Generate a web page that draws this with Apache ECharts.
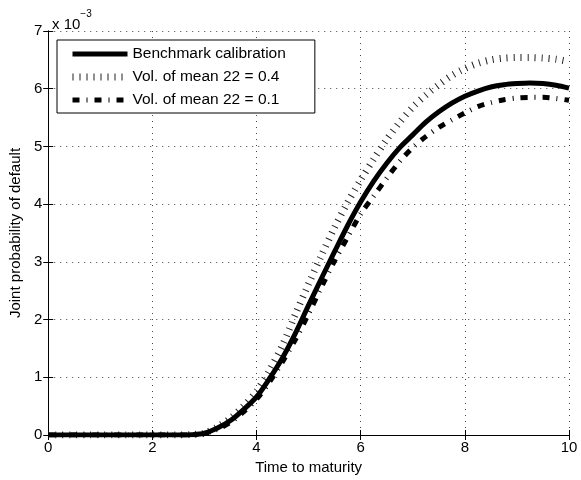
<!DOCTYPE html>
<html>
<head>
<meta charset="utf-8">
<script src="https://cdn.jsdelivr.net/npm/echarts@6/dist/echarts.min.js"></script>
<style>
html,body{margin:0;padding:0;background:#fff;}
#main{width:581px;height:480px;}
</style>
</head>
<body>
<div id="main"></div>
<script>
// Time to maturity
const times = [0,0.25,0.5,0.75,1,1.25,1.5,1.75,2,2.25,2.5,2.75,3,3.25,3.5,3.75,4,4.25,4.5,4.75,5,5.25,5.5,5.75,6,6.25,6.5,6.75,7,7.25,7.5,7.75,8,8.25,8.5,8.75,9,9.25,9.5,9.75,10];
// Joint probability of default (x 10^-3)
const benchmark = [0,0,0,0,0,0,0,0,0,0,0.001,0.005,0.03,0.12,0.25,0.44,0.66,0.98,1.34,1.77,2.25,2.72,3.18,3.63,4.04,4.40,4.71,4.98,5.20,5.42,5.60,5.75,5.87,5.96,6.03,6.07,6.09,6.10,6.09,6.06,6.01];
const volMean04 = [0,0,0,0,0,0,0,0,0,0,0.001,0.006,0.035,0.14,0.29,0.5,0.76,1.12,1.56,2.1,2.62,3.12,3.6,4.03,4.42,4.78,5.12,5.42,5.68,5.89,6.07,6.23,6.35,6.44,6.50,6.53,6.54,6.54,6.53,6.51,6.47];
const volMean01 = [0,0,0,0,0,0,0,0,0,0,0.001,0.004,0.025,0.1,0.22,0.4,0.62,0.92,1.27,1.66,2.1,2.57,3.02,3.43,3.83,4.14,4.45,4.74,4.98,5.17,5.33,5.46,5.58,5.69,5.76,5.81,5.84,5.85,5.85,5.83,5.80];
const seriesNames = ['Benchmark calibration','Vol. of mean 22 = 0.4','Vol. of mean 22 = 0.1'];
const xTicks = [0,2,4,6,8,10];
const yTicks = [0,1,2,3,4,5,6,7];

const pairs = arr => times.map((t,i)=>[t,arr[i]]);
const font = 'Liberation Sans, Arial, sans-serif';
const gridLine = {show:true,lineStyle:{color:'#444',type:[1,5],width:1}};

const styles = [
  {color:'#000',width:5,type:'solid',cap:'butt'},
  {color:'#222',width:7,type:[1,6],cap:'butt'},
  {color:'#000',width:5,type:[7,7,1,7],cap:'butt'}
];

const chart = echarts.init(document.getElementById('main'),null,{renderer:'canvas'});
chart.setOption({
  animation:false,
  backgroundColor:'#fff',
  title:{
    text:'{a|x 10}{b|−3}',
    left:47, top:4,
    textStyle:{fontWeight:'normal',rich:{
      a:{fontFamily:font,fontSize:15,fontWeight:'normal',color:'#000',verticalAlign:'bottom',padding:[8,0,0,0]},
      b:{fontFamily:font,fontSize:10,fontWeight:'normal',color:'#000',verticalAlign:'top',padding:[0,0,10,0]}
    }}
  },
  grid:{left:48,right:12,top:31,bottom:45,containLabel:false},
  legend:{
    orient:'vertical',
    left:57, top:40,
    padding:[6,29,5,12],
    itemGap:7,
    itemWidth:55, itemHeight:14,
    backgroundColor:'#fff',
    borderColor:'#000', borderWidth:1, borderRadius:0,
    textStyle:{fontFamily:font,fontSize:15.5,lineHeight:16,color:'#000'},
    data:seriesNames.map((n,i)=>({name:n,itemStyle:{opacity:0},lineStyle:Object.assign({},styles[i])}))
  },
  xAxis:[{
    type:'value',min:0,max:10,interval:2,
    axisLine:{show:true,lineStyle:{color:'#000',width:1}},
    axisTick:{show:true,inside:true,length:5,lineStyle:{color:'#000'}},
    axisLabel:{fontFamily:font,fontSize:15,color:'#000',margin:5,formatter:v=>xTicks.includes(v)?String(v):''},
    splitLine:gridLine,
    name:'Time to maturity',nameLocation:'middle',nameGap:23,
    nameTextStyle:{fontFamily:font,fontSize:15,color:'#000'}
  },{
    type:'value',min:0,max:10,interval:2,position:'top',
    axisLine:{show:true,lineStyle:{color:'#000',width:1}},
    axisTick:{show:true,inside:true,length:5,lineStyle:{color:'#000'}},
    axisLabel:{show:false},splitLine:{show:false}
  }],
  yAxis:[{
    type:'value',min:0,max:7,interval:1,
    axisLine:{show:true,lineStyle:{color:'#000',width:1}},
    axisTick:{show:true,inside:true,length:5,lineStyle:{color:'#000'}},
    axisLabel:{fontFamily:font,fontSize:15,color:'#000',margin:6,formatter:v=>yTicks.includes(v)?String(v):''},
    splitLine:gridLine,
    name:'Joint probability of default',nameLocation:'middle',nameGap:16,
    nameTextStyle:{fontFamily:font,fontSize:15,color:'#000'}
  },{
    type:'value',min:0,max:7,interval:1,position:'right',
    axisLine:{show:true,lineStyle:{color:'#000',width:1}},
    axisTick:{show:true,inside:true,length:5,lineStyle:{color:'#000'}},
    axisLabel:{show:false},splitLine:{show:false}
  }],
  series:[
    {name:seriesNames[1],type:'line',data:pairs(volMean04),showSymbol:false,symbol:'none',smooth:0.3,
     color:'#000',lineStyle:styles[1]},
    {name:seriesNames[0],type:'line',data:pairs(benchmark),showSymbol:false,symbol:'none',smooth:0.3,
     color:'#000',lineStyle:styles[0]},
    {name:seriesNames[2],type:'line',data:pairs(volMean01),showSymbol:false,symbol:'none',smooth:0.3,
     color:'#000',lineStyle:styles[2]}
  ]
});
</script>
</body>
</html>
